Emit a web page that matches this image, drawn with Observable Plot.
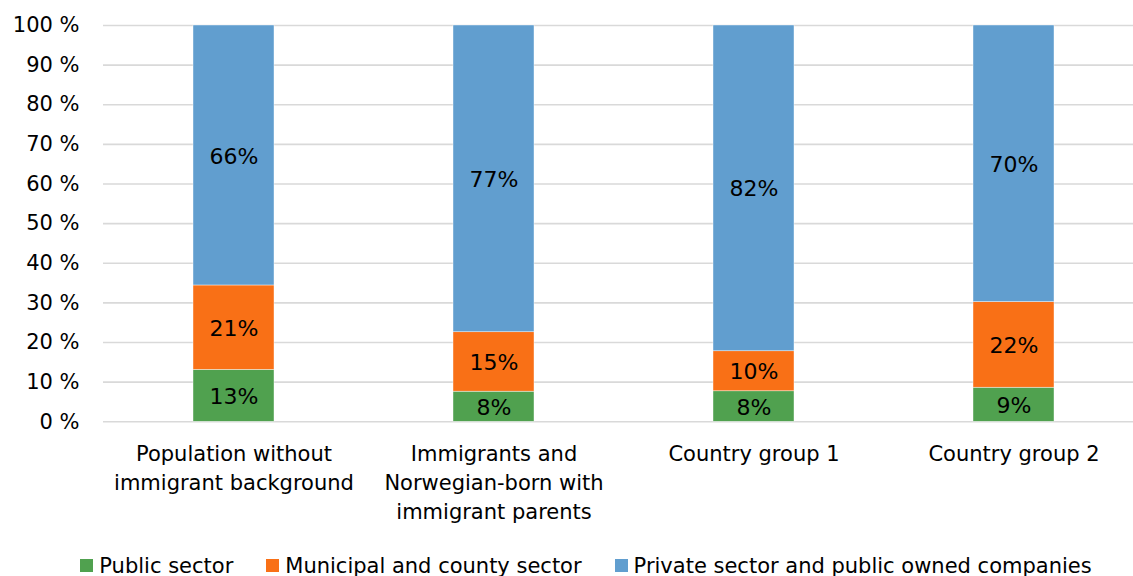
<!DOCTYPE html>
<html>
<head>
<meta charset="utf-8">
<script src="https://cdn.jsdelivr.net/npm/d3@7"></script>
<script src="https://cdn.jsdelivr.net/npm/@observablehq/plot@0.6"></script>
<style>
  html, body { margin: 0; padding: 0; background: #fff; overflow: hidden; }
  body { font-family: "DejaVu Sans", sans-serif; }
  #legend { display: flex; justify-content: center; align-items: center; font-size: 21px; color: #000; height: 41px; padding-top: 10px; padding-left: 39px; }
  .item { display: flex; align-items: center; margin-right: 33px; }
  .item:last-child { margin-right: 0; }
  .sw { width: 13px; height: 13px; margin-right: 6px; }
</style>
</head>
<body>
<div id="chart"></div>
<div id="legend"></div>
<script>
const categories = [
  "Population without\nimmigrant background",
  "Immigrants and\nNorwegian-born with\nimmigrant parents",
  "Country group 1",
  "Country group 2"
];
const sectors = ["Public sector", "Municipal and county sector", "Private sector and public owned companies"];
const colors = ["#50a14f", "#f97016", "#619ecf"];
const publicSector = [13.1, 7.6, 7.7, 8.6];
const municipalSector = [21.3, 15.0, 10.1, 21.6];
const privateSector = [65.6, 77.4, 82.2, 69.8];
const yTicks = [0, 10, 20, 30, 40, 50, 60, 70, 80, 90, 100];

const series = [publicSector, municipalSector, privateSector];
const data = [];
categories.forEach((c, i) => {
  sectors.forEach((s, j) => data.push({category: c, sector: s, value: series[j][i]}));
});

const font = '"DejaVu Sans", sans-serif';
const chart = Plot.plot({
  width: 1133,
  height: 535,
  marginTop: 25,
  marginBottom: 113.7,
  marginLeft: 103,
  marginRight: 0,
  style: {fontFamily: font, fontSize: "21px", color: "#000", background: "#fff"},
  x: {domain: categories, range: [103, 1143], paddingInner: 0.69, paddingOuter: 0.345, label: null},
  y: {domain: [0, 100], label: null},
  color: {domain: sectors, range: colors},
  marks: [
    Plot.ruleY(yTicks, {stroke: "#d9d9d9", strokeWidth: 1.6}),
    Plot.axisY(yTicks, {tickSize: 0, tickPadding: 24, tickFormat: d => d + " %", fontSize: 21, label: null}),
    Plot.axisX({tickSize: 0, tickPadding: 19, fontSize: 21, lineHeight: 1.38, label: null}),
    Plot.barY(data, {x: "category", y: "value", fill: "sector", stroke: "#ffffff", strokeWidth: 0.6, strokeOpacity: 0.7}),
    Plot.text(data, Plot.stackY({x: "category", y: "value", z: "sector", text: d => Math.round(d.value) + "%", fontSize: 22, dy: 1, fill: "#000"}))
  ]
});
document.getElementById("chart").appendChild(chart);

const legend = document.getElementById("legend");
sectors.forEach((s, i) => {
  const item = document.createElement("div");
  item.className = "item";
  const sw = document.createElement("span");
  sw.className = "sw";
  sw.style.background = colors[i];
  const t = document.createElement("span");
  t.textContent = s;
  item.appendChild(sw);
  item.appendChild(t);
  legend.appendChild(item);
});
</script>
</body>
</html>
